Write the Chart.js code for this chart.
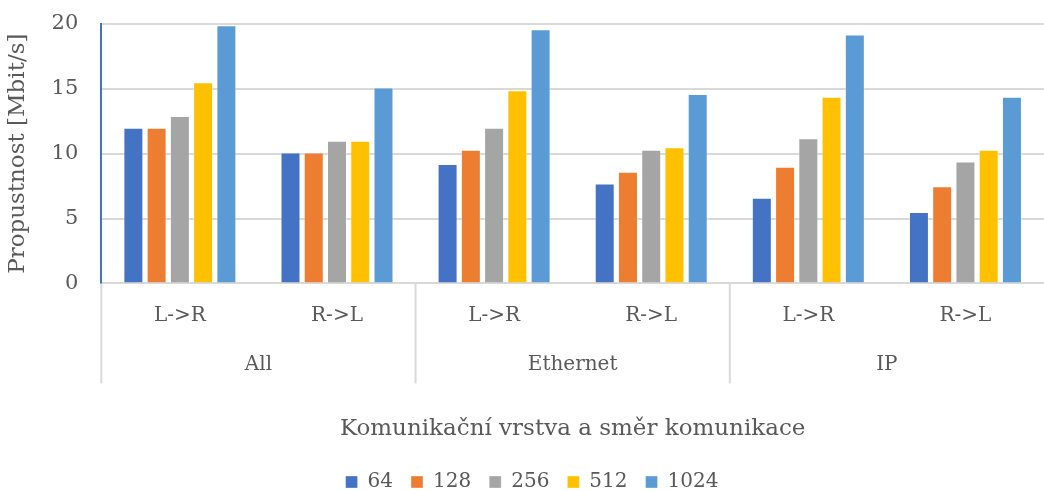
<!DOCTYPE html>
<html>
<head>
<meta charset="utf-8">
<script src="https://cdn.jsdelivr.net/npm/chart.js@4"></script>
<style>
  html, body { margin: 0; padding: 0; background: #fff; }
  #wrap { width: 1044px; height: 491px; }
</style>
</head>
<body>
<div id="wrap"><canvas id="chart"></canvas></div>
<script>
// categories
const directions = ["L->R", "R->L", "L->R", "R->L", "L->R", "R->L"];
const layers = ["All", "Ethernet", "IP"];

// series (packet size) values in Mbit/s
const s64   = [12.0, 10.1, 9.2, 7.7, 6.6, 5.5];
const s128  = [12.0, 10.1, 10.3, 8.6, 9.0, 7.5];
const s256  = [12.9, 11.0, 12.0, 10.3, 11.2, 9.4];
const s512  = [15.5, 11.0, 14.9, 10.5, 14.4, 10.3];
const s1024 = [19.9, 15.1, 19.6, 14.6, 19.2, 14.4];

const seriesNames = ["64", "128", "256", "512", "1024"];
const colors = ["#4472c4", "#ed7d31", "#a5a5a5", "#ffc000", "#5b9bd5"];

const FONT = "'DejaVu Serif', serif";
const TEXT = "#595959";
const GRID = "#d9d9d9";

// draws the second row of the x axis: layer names + separators
const groupAxis = {
  id: "groupAxis",
  afterDraw(chart) {
    const ctx = chart.ctx;
    const x = chart.scales.x;
    const bottom = chart.chartArea.bottom;
    const step = x.getPixelForValue(1) - x.getPixelForValue(0);
    ctx.save();
    ctx.strokeStyle = GRID;
    ctx.lineWidth = 2;
    ctx.fillStyle = TEXT;
    ctx.font = "20px " + FONT;
    ctx.textAlign = "center";
    ctx.textBaseline = "middle";
    layers.forEach((name, i) => {
      const left = x.getPixelForValue(i * 2) - step / 2;
      ctx.beginPath();
      ctx.moveTo(left, bottom);
      ctx.lineTo(left, bottom + 100);
      ctx.stroke();
      const mid = (x.getPixelForValue(i * 2) + x.getPixelForValue(i * 2 + 1)) / 2;
      ctx.fillText(name, mid, bottom + 81);
    });
    ctx.restore();
  }
};

const datasets = [s64, s128, s256, s512, s1024].map((d, i) => ({
  label: seriesNames[i],
  data: d,
  backgroundColor: colors[i],
  borderColor: "rgba(255,255,255,0.35)",
  borderWidth: 1,
  categoryPercentage: 0.74,
  barPercentage: 0.86
}));

new Chart(document.getElementById("chart"), {
  type: "bar",
  data: { labels: directions, datasets },
  options: {
    responsive: true,
    maintainAspectRatio: false,
    animation: false,
    layout: { padding: { top: 24, right: -16, bottom: -11, left: 4 } },
    plugins: {
      legend: {
        position: "bottom",
        labels: {
          color: TEXT,
          font: { family: FONT, size: 20 },
          boxWidth: 12,
          boxHeight: 12,
          padding: 18
        }
      },
      tooltip: { enabled: false }
    },
    scales: {
      x: {
        grid: { display: false },
        border: { color: GRID, width: 2 },
        ticks: { color: TEXT, font: { family: FONT, size: 20 }, padding: 12 },
        title: {
          display: true,
          text: "Komunikační vrstva a směr komunikace",
          color: TEXT,
          font: { family: FONT, size: 23 },
          padding: { top: 76, bottom: 11 }
        }
      },
      y: {
        min: 0,
        max: 20,
        ticks: { stepSize: 5, color: TEXT, font: { family: FONT, size: 21 }, padding: 0 },
        grid: { color: GRID, lineWidth: 2, drawTicks: true, tickLength: 23, tickColor: "rgba(0,0,0,0)" },
        border: { color: "#4472c4", width: 2 },
        title: {
          display: true,
          text: "Propustnost [Mbit/s]",
          color: TEXT,
          font: { family: FONT, size: 23 },
          padding: { top: 0, bottom: 20 }
        }
      }
    }
  },
  plugins: [groupAxis]
});
</script>
</body>
</html>
